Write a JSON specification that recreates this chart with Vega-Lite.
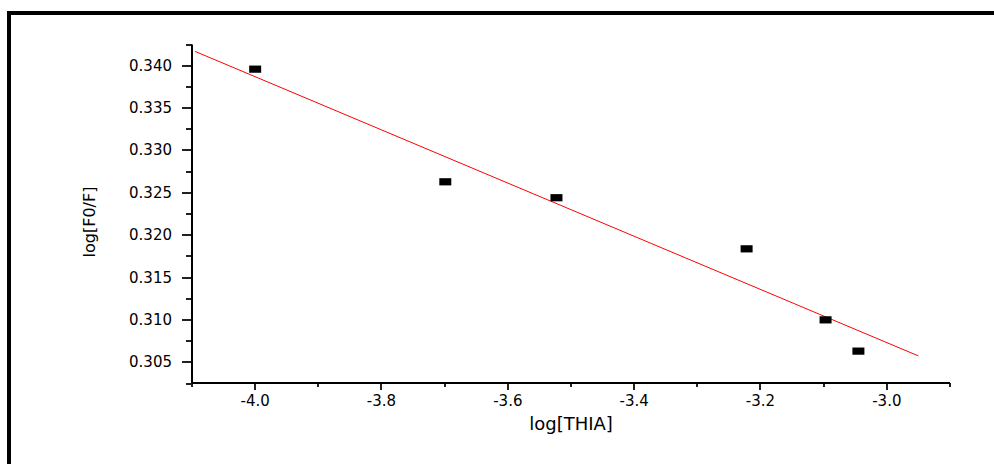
{
  "$schema": "https://vega.github.io/schema/vega-lite/v6.json",
  "width": 985,
  "height": 451,
  "autosize": {"type": "none"},
  "padding": {"left": 9, "top": 13, "right": 0, "bottom": 0},
  "background": "white",
  "config": {
    "view": {"stroke": "black", "strokeWidth": 4, "strokeDash": [985, 1436, 451], "strokeCap": "square"},
    "locale": {"number": {"decimal": ".", "thousands": ",", "grouping": [3], "currency": ["$", ""], "minus": "-"}},
    "axis": {
      "grid": false,
      "labelFont": "DejaVu Sans",
      "titleFont": "DejaVu Sans",
      "labelColor": "#000",
      "titleColor": "#000",
      "titleFontWeight": "normal",
      "domainColor": "#000",
      "tickColor": "#222",
      "translate": 0
    }
  },
  "layer": [
    {
      "data": {"values": [
        {"logTHIA": -4.0953, "fit": 0.34169},
        {"logTHIA": -2.9502, "fit": 0.30576}
      ]},
      "mark": {"type": "line", "color": "#ff0000", "strokeWidth": 1},
      "encoding": {
        "x": {
          "field": "logTHIA", "type": "quantitative",
          "scale": {"domain": [-4.1, -2.9], "range": [183, 941], "nice": false, "zero": false},
          "axis": {"orient": "bottom", "offset": -81, "values": [-4.1, -3.9, -3.7, -3.5, -3.3, -3.1, -2.9], "tickSize": 4, "tickWidth": 2, "labels": false, "domain": false, "title": null}
        },
        "y": {
          "field": "fit", "type": "quantitative",
          "scale": {"domain": [0.3025, 0.3425], "range": [370.5, 31.5], "nice": false, "zero": false},
          "axis": {"orient": "left", "offset": -183, "values": [0.3025, 0.3075, 0.3125, 0.3175, 0.3225, 0.3275, 0.3325, 0.3375, 0.3425], "tickSize": 6, "tickWidth": 2, "labels": false, "domain": false, "title": null}
        }
      }
    },
    {
      "data": {"values": [
        {"logTHIA": -4.0, "logF": 0.33959},
        {"logTHIA": -3.699, "logF": 0.3263},
        {"logTHIA": -3.523, "logF": 0.32442},
        {"logTHIA": -3.222, "logF": 0.31839},
        {"logTHIA": -3.097, "logF": 0.31001},
        {"logTHIA": -3.045, "logF": 0.30632}
      ]},
      "mark": {"type": "point", "shape": "M-1,-0.6H1V0.6H-1Z", "size": 144, "filled": true, "color": "#000", "opacity": 1, "strokeWidth": 0},
      "encoding": {
        "x": {
          "field": "logTHIA", "type": "quantitative",
          "scale": {"domain": [-4.1, -2.9], "range": [183, 941], "nice": false, "zero": false},
          "axis": {"orient": "bottom", "offset": -81, "values": [-4.0, -3.8, -3.6, -3.4, -3.2, -3.0], "format": ".1f", "tickSize": 7, "tickWidth": 2, "domain": true, "domainWidth": 2, "labelPadding": 4, "labelFontSize": 15, "title": "log[THIA]", "titleFontSize": 18, "titleBaseline": "top", "titleY": 33}
        },
        "y": {
          "field": "logF", "type": "quantitative",
          "scale": {"domain": [0.3025, 0.3425], "range": [370.5, 31.5], "nice": false, "zero": false},
          "axis": {"orient": "left", "offset": -183, "values": [0.305, 0.31, 0.315, 0.32, 0.325, 0.33, 0.335, 0.34], "format": ".3f", "tickSize": 10, "tickWidth": 2, "domain": true, "domainWidth": 2, "labelPadding": 10, "labelFontSize": 15, "title": "log[F0/F]", "titleFontSize": 16, "titleX": -97, "titleY": 209, "titleBaseline": "alphabetic", "titleAngle": -90, "titleAlign": "center"}
        }
      }
    }
  ],
  "resolve": {"axis": {"x": "independent", "y": "independent"}}
}
